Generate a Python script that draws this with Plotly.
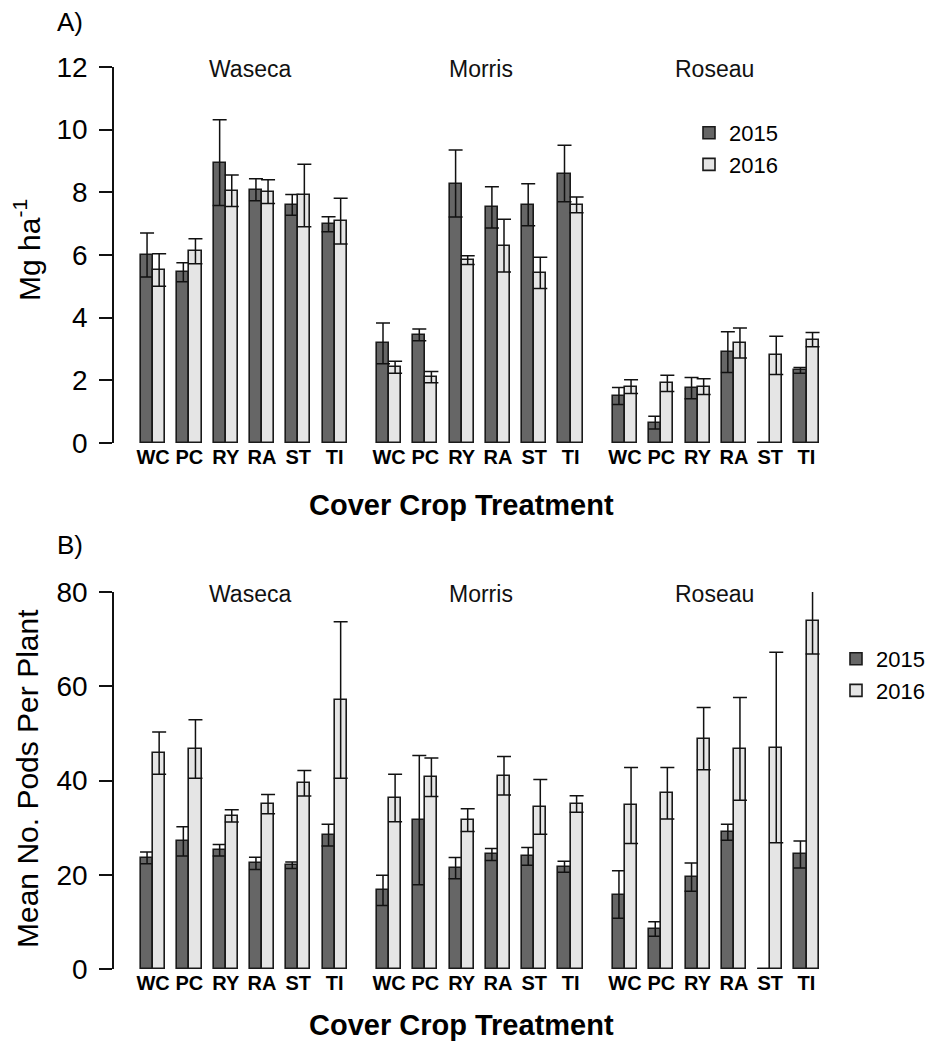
import plotly.graph_objects as go

# ---------------- data ----------------
sites = ["Waseca", "Morris", "Roseau"]
treatments = ["WC", "PC", "RY", "RA", "ST", "TI"]
years = ["2015", "2016"]

# Panel A: yield (Mg ha-1), site-major order (Waseca, Morris, Roseau) x treatments
yield_2015 = [6.0, 5.45, 8.95, 8.08, 7.6, 6.98,
              3.18, 3.45, 8.28, 7.52, 7.6, 8.6,
              1.5, 0.65, 1.75, 2.9, 0.0, 2.32]
yield_se_2015 = [0.7, 0.3, 1.37, 0.35, 0.33, 0.24,
                 0.65, 0.19, 1.07, 0.66, 0.67, 0.9,
                 0.27, 0.2, 0.34, 0.65, None, 0.09]
yield_2016 = [5.52, 6.12, 8.05, 8.02, 7.9, 7.08,
              2.42, 2.1, 5.84, 6.3, 5.43, 7.6,
              1.8, 1.9, 1.8, 3.19, 2.8, 3.3]
yield_se_2016 = [0.52, 0.4, 0.5, 0.38, 1.0, 0.73,
                 0.19, 0.18, 0.14, 0.84, 0.5, 0.25,
                 0.22, 0.26, 0.25, 0.48, 0.61, 0.23]

# Panel B: mean number of pods per plant
pods_2015 = [23.6, 27.1, 25.2, 22.4, 22.0, 28.4,
             16.7, 31.6, 21.4, 24.3, 23.9, 21.7,
             15.8, 8.5, 19.5, 29.0, 0.0, 24.3]
pods_se_2015 = [1.25, 3.1, 1.2, 1.3, 0.7, 2.3,
                3.2, 13.7, 2.25, 1.25, 1.9, 1.15,
                5.05, 1.55, 3.0, 1.7, None, 2.85]
pods_2016 = [45.8, 46.7, 32.5, 35.0, 39.4, 57.1,
             36.3, 40.7, 31.6, 41.0, 34.4, 35.0,
             34.7, 37.3, 48.9, 46.7, 47.0, 73.9]
pods_se_2016 = [4.5, 6.2, 1.3, 2.05, 2.7, 16.6,
                5.05, 4.1, 2.4, 4.1, 5.8, 1.75,
                8.05, 5.45, 6.6, 10.9, 20.2, 7.05]

# ---------------- layout helpers ----------------
W, H = 937, 1045
FONT = "Liberation Sans, Arial, sans-serif"
col_2015 = "#666666"
col_2016 = "#e5e5e5"
edge = "#1a1a1a"

SITE_STEP = 19.5   # bar-width units between site blocks
CAT_STEP = 3.0     # bar-width units between treatments
group_left = [s * SITE_STEP + i * CAT_STEP for s in range(len(sites)) for i in range(len(treatments))]
x2015 = [g + 0.5 for g in group_left]
x2016 = [g + 1.5 for g in group_left]
tick_x = [g + 1.0 for g in group_left]
tick_text = [t for _ in sites for t in treatments]

def py(p):  # pixel y (from top) -> paper
    return 1 - p / H

def px(p):
    return p / W

unit_px = 12.1
x_left_px = 113
x0_px = 141
xrange_ = [(x_left_px - x0_px) / unit_px, (W - x0_px) / unit_px]

fig = go.Figure()

panels = [
    (yield_2015, yield_se_2015, yield_2016, yield_se_2016, "x", "y", "legend"),
    (pods_2015, pods_se_2015, pods_2016, pods_se_2016, "x2", "y2", "legend2"),
]
for (v15, e15, v16, e16, xa, ya, lg) in panels:
    for yr, xs, vals, errs, col in [("2015", x2015, v15, e15, col_2015),
                                     ("2016", x2016, v16, e16, col_2016)]:
        fig.add_trace(go.Bar(
            x=xs, y=vals, width=1.0, name=yr, xaxis=xa, yaxis=ya, legend=lg,
            marker=dict(color=col, line=dict(color=edge, width=1.6)),
            error_y=dict(type="data", array=[e if e is not None else float("nan") for e in errs],
                         visible=True, color="#111111", thickness=1.5, width=7),
            showlegend=True,
        ))

yaxis_common = dict(showgrid=False, zeroline=False, showline=True, linecolor="#111111", linewidth=1.5,
                    ticks="outside", ticklen=13, tickwidth=1.5, tickcolor="#111111",
                    tickfont=dict(family=FONT, size=28, color="black"), ticklabelstandoff=6,
                    anchor="free", position=px(x_left_px), automargin=False)
xaxis_common = dict(range=xrange_, domain=[px(x_left_px), 1.0], showgrid=False, zeroline=False,
                    showline=False, ticks="", tickvals=tick_x, ticktext=tick_text,
                    tickfont=dict(family=FONT, size=20, color="black", weight="bold"),
                    tickangle=0, ticklabelstandoff=0, automargin=False)

fig.update_layout(
    width=W, height=H, margin=dict(l=0, r=0, t=0, b=0, autoexpand=False),
    paper_bgcolor="white", plot_bgcolor="white",
    barmode="overlay", bargap=0,
    font=dict(family=FONT, color="black"),
    xaxis=dict(**xaxis_common, anchor="y"),
    xaxis2=dict(**xaxis_common, anchor="y2"),
    yaxis=dict(**yaxis_common, domain=[py(443), py(67)], range=[0, 12], tickvals=[0, 2, 4, 6, 8, 10, 12]),
    yaxis2=dict(**yaxis_common, domain=[py(969), py(592)], range=[0, 80], tickvals=[0, 20, 40, 60, 80]),
    legend=dict(x=px(689), y=py(112), xanchor="left", yanchor="top", bgcolor="rgba(0,0,0,0)",
                font=dict(family=FONT, size=22, color="black"), tracegroupgap=0),
    legend2=dict(x=px(836), y=py(638), xanchor="left", yanchor="top", bgcolor="rgba(0,0,0,0)",
                 font=dict(family=FONT, size=22, color="black"), tracegroupgap=0),
)

ann = []
def add_text(text, x, y, size, angle=0, color="black"):
    ann.append(dict(text=text, x=px(x), y=py(y), xref="paper", yref="paper", showarrow=False,
                    xanchor="center", yanchor="middle", textangle=angle,
                    font=dict(family=FONT, size=size, color=color)))

# panel tags
add_text("A)", 70, 22, 26)
add_text("B)", 70, 545, 26)
# site labels
site_px = [250, 481, 714]
for s, sx in zip(sites, site_px):
    for yc in (69, 594):
        add_text(s, sx, yc, 23, color="#111111")
# axis titles
for yc in (505, 1025):
    add_text("<b>Cover Crop Treatment</b>", 461, yc, 29)
add_text("Mg ha<sup>-1</sup>", 27, 250, 30, angle=-90)
add_text("Mean No. Pods Per Plant", 27, 779, 30, angle=-90)
fig.update_layout(annotations=ann)

fig.write_html("out.html")
